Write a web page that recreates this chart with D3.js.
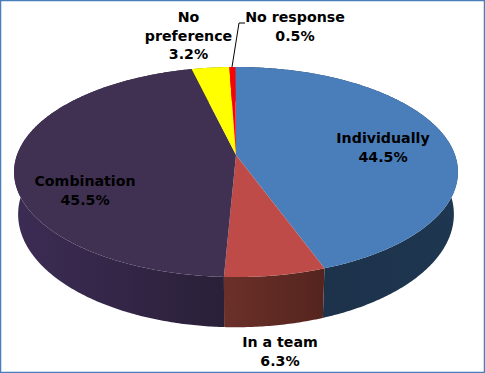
<!DOCTYPE html>
<html>
<head>
<meta charset="utf-8">
<script src="https://cdn.jsdelivr.net/npm/d3@7"></script>
<style>
  html, body { margin: 0; padding: 0; background: #fff; }
  svg { display: block; }
  text { font-family: "DejaVu Sans", sans-serif; font-weight: bold; font-size: 14.2px; fill: #000; }
</style>
</head>
<body>
<div id="pie-viz"></div>
<script>
// chart data
const categories = ["Individually", "In a team", "Combination", "No preference", "No response"];
const shares = [44.5, 6.3, 45.5, 3.2, 0.5];

const topColors = ["#4a7ebb", "#be4b48", "#403152", "#ffff00", "#ff0000"];
const wallColors = [["#1c3048", "#1e3650"], ["#6b3029", "#55241e"], ["#3c2c55", "#2a2038"], ["#80801a", "#80801a"], ["#800000", "#800000"]];

const width = 485, height = 373;

// the pie was drawn with perspective, so the centre is not the middle of the ellipse
const topDisc = { cx: 236, cy: 155, a: 219, b: 102.3, k: 0.162 };
const baseDisc = { cx: 236, cy: 196, a: 215, b: 110, k: 0.162 };

function project(disc, angle) {
  const u = Math.sin(angle), v = -Math.cos(angle);
  const w = 1 - disc.k * v;
  return [disc.cx + disc.a * u / w, disc.cy + disc.b * v / w];
}

function rim(disc, d) {
  const n = Math.max(2, Math.ceil((d.endAngle - d.startAngle) / 0.01));
  return d3.range(n + 1).map(i => project(disc, d.startAngle + (d.endAngle - d.startAngle) * i / n));
}

const svg = d3.select("#pie-viz")
  .append("svg")
  .attr("width", width)
  .attr("height", height);

const pie = d3.pie().sort(null).startAngle(-0.004).endAngle(2 * Math.PI - 0.004);
const slices = pie(shares);
const line = d3.line();

// side wall gradients
const defs = svg.append("defs");
slices.forEach((d, i) => {
  const pts = rim(topDisc, d);
  const g = defs.append("linearGradient")
    .attr("id", `wall-${i}`)
    .attr("gradientUnits", "userSpaceOnUse")
    .attr("x1", d3.min(pts, p => p[0])).attr("x2", d3.max(pts, p => p[0]))
    .attr("y1", 0).attr("y2", 0);
  g.append("stop").attr("offset", 0).attr("stop-color", wallColors[i][0]);
  g.append("stop").attr("offset", 1).attr("stop-color", wallColors[i][1]);
});

// walls first, the top covers the back half of them
svg.append("g")
  .selectAll("path")
  .data(slices)
  .join("path")
  .attr("fill", (d, i) => `url(#wall-${i})`)
  .attr("d", d => line(rim(topDisc, d).concat(rim(baseDisc, d).reverse())) + "Z");

svg.append("g")
  .selectAll("path")
  .data(slices)
  .join("path")
  .attr("fill", (d, i) => topColors[i])
  .attr("d", d => line([[topDisc.cx, topDisc.cy]].concat(rim(topDisc, d))) + "Z");

// leader line for the small slice
svg.append("path")
  .attr("fill", "none")
  .attr("stroke", "#000")
  .attr("stroke-width", 1)
  .attr("d", "M232,67L239,23L245,23");

// labels
const labelLines = [["Individually"], ["In a team"], ["Combination"], ["No", "preference"], ["No response"]];
const labelAnchors = [[383, 143], [280, 347], [85, 186], [188.5, 22], [295, 22]];
const pct = d3.format(".1f");

const labels = svg.append("g")
  .selectAll("text")
  .data(slices)
  .join("text")
  .attr("text-anchor", "middle")
  .attr("transform", (d, i) => `translate(${labelAnchors[i]})`);

labels.selectAll("tspan")
  .data((d, i) => labelLines[i].concat(pct(shares[i]) + "%"))
  .join("tspan")
  .attr("x", 0)
  .attr("y", (d, i) => i * 18.5)
  .text(d => d);

// picture frame
svg.append("rect")
  .attr("x", 0.5).attr("y", 0.5)
  .attr("width", width - 1).attr("height", height - 1)
  .attr("fill", "none")
  .attr("stroke", "#4a7ebb")
  .attr("stroke-width", 1.5);
</script>
</body>
</html>
